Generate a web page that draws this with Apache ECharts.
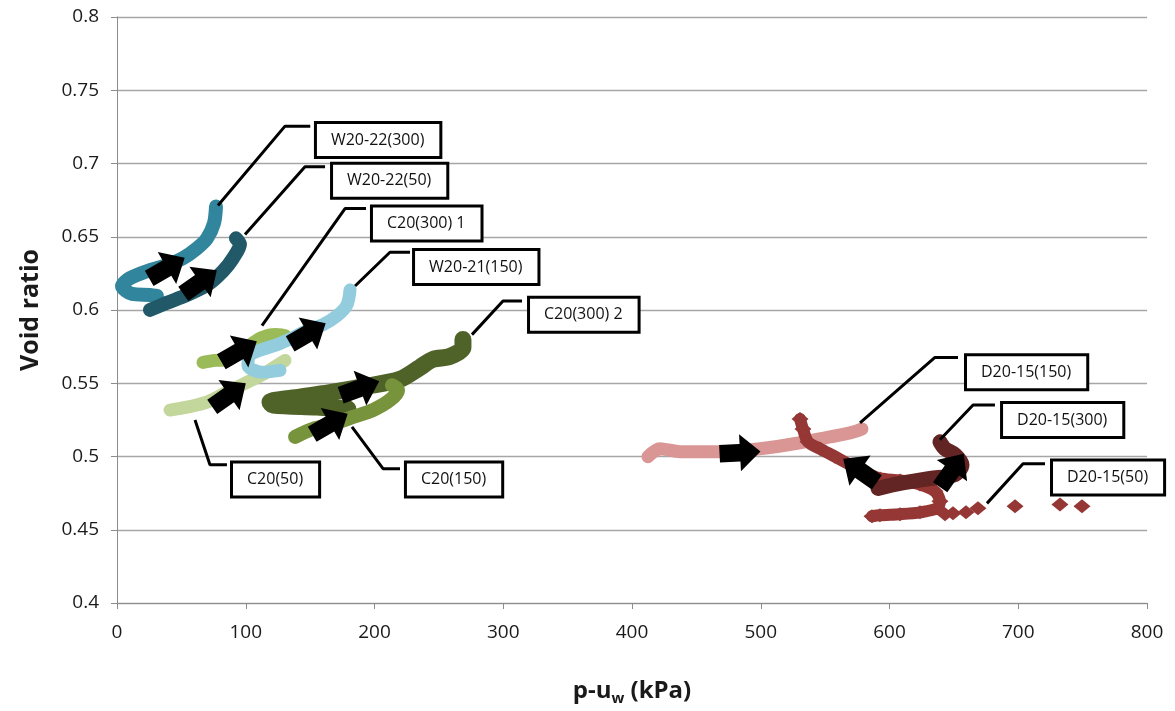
<!DOCTYPE html>
<html>
<head>
<meta charset="utf-8">
<script src="https://cdn.jsdelivr.net/npm/echarts@6/dist/echarts.min.js"></script>
<style>
html,body{margin:0;padding:0;background:#fff;}
#chart{width:1175px;height:711px;}
</style>
</head>
<body>
<div id="chart"></div>
<script>
// ---- data (p-uw in kPa, void ratio) ----
const xTicks = [0, 100, 200, 300, 400, 500, 600, 700, 800];
const yTicks = [0.4, 0.45, 0.5, 0.55, 0.6, 0.65, 0.7, 0.75, 0.8];

const seriesNames = ['W20-22(300)', 'W20-22(50)', 'C20(300) 1', 'C20(50)', 'W20-21(150)',
  'C20(300) 2', 'C20(150)', 'D20-15(150)', 'D20-15(50)', 'D20-15(300)'];

const w2022_300 = [[31.1,0.6096],[25.6,0.6103],[11.7,0.611],[3.9,0.6164],[10.1,0.6218],[25.6,0.6272],[38.8,0.6306],[51.3,0.6354],[62.1,0.6421],[69.9,0.6489],[75.3,0.6591],[76.9,0.6706]];
const w2022_50 = [[25.6,0.6001],[38.8,0.6049],[54.4,0.6103],[69.9,0.6171],[82.3,0.6266],[90.1,0.6354],[95.5,0.6449],[92.4,0.6489]];
const c20_300_1 = [[66.8,0.5642],[76.1,0.5656],[86.2,0.5663],[95.5,0.571],[104.9,0.5771],[112.6,0.5812],[122.7,0.5832],[130.5,0.5825]];
const c20_50 = [[41.2,0.5317],[54.4,0.5337],[69.9,0.5371],[85.4,0.5439],[97.9,0.5493],[113.4,0.5561],[124.3,0.5622],[130.5,0.5656]];
const w2021_150 = [[126.6,0.5588],[112.6,0.5575],[101.7,0.5622],[103.3,0.569],[112.6,0.573],[124.3,0.5764],[136.7,0.5812],[147.6,0.586],[160,0.59],[170.9,0.596],[178.6,0.6035],[181,0.6137]];
const c20_300_2 = [[179.4,0.5324],[155.3,0.5337],[121.2,0.5351],[118.8,0.5371],[142.1,0.5405],[167.8,0.5439],[194.2,0.548],[219.8,0.5527],[235.3,0.5608],[245.4,0.5663],[258.6,0.5683],[268.7,0.5744],[268.7,0.5798]];
const c20_150 = [[138.3,0.5134],[152.2,0.5188],[167.8,0.5222],[183.3,0.527],[198.8,0.5317],[212,0.5385],[218.3,0.5453],[213.6,0.5486]];
const d2015_150 = [[412.4,0.4999],[421.7,0.5053],[437.3,0.5033],[470.7,0.5033],[499.4,0.5053],[530.5,0.5094],[553.8,0.5134],[569.3,0.5161],[578.6,0.5188]];
const d2015_50 = [[530.5,0.5256],[532.8,0.5188],[536.7,0.51],[546,0.5053],[557.7,0.4999],[569.3,0.4944],[581,0.489],[592.6,0.485],[608.2,0.4836],[623.7,0.4809],[635.3,0.4762],[639.2,0.4694],[636.9,0.4646],[623.7,0.4619],[608.2,0.4606],[592.6,0.4599],[586.4,0.4592]];
const d2015_50_tail = [[643.1,0.4606],[649.3,0.4612],[659.4,0.4619],[668.7,0.4646],[697.5,0.466],[732.4,0.4673],[749.5,0.466]];
const d2015_300 = [[591.1,0.4782],[608.2,0.4816],[631.5,0.485],[650.9,0.4877],[656.3,0.4944],[650.9,0.5012],[643.1,0.5053],[639.2,0.51]];

// arrows (data position, direction in degrees counter-clockwise from +x)
const arrowPos = [[38.8,0.6286],[64.5,0.6191],[94.8,0.5717],[148.3,0.5839],[87,0.5419],[188.7,0.5466],[165.4,0.5222],[483.9,0.5026],[577.1,0.4904],[648.5,0.4904]];
const arrowDir = [30, 35, 30, 30, 35, 20, 30, 3, 145, 55];

// callouts: label text, box anchor (left edge, middle), leader polyline
const calloutText = ['W20-22(300)', 'W20-22(50)', 'C20(300) 1', 'W20-21(150)', 'C20(300) 2', 'C20(50)', 'C20(150)', 'D20-15(150)', 'D20-15(300)', 'D20-15(50)'];
const calloutBox = [[155.3,0.716],[167.8,0.6882],[198.8,0.6591],[231.5,0.6293],[320.8,0.5967],[90.1,0.4843],[225.2,0.4843],[660.2,0.5575],[688.2,0.5249],[727,0.4856]];
const calloutLeader = [
  [[78.4,0.6713],[130.5,0.7255],[150.1,0.7255]],
  [[99.4,0.6516],[146,0.6977],[161.6,0.6977]],
  [[112.6,0.5893],[177.1,0.6692],[193.4,0.6692]],
  [[184.9,0.6164],[212,0.6394],[227.6,0.6394]],
  [[275.7,0.5832],[299.8,0.6062],[314.6,0.6062]],
  [[60.6,0.5249],[72.2,0.4944],[85.4,0.4944]],
  [[182.5,0.5202],[206.6,0.4917],[219.8,0.4917]],
  [[577.1,0.5229],[635.3,0.5676],[653.2,0.5676]],
  [[639.2,0.5114],[664.9,0.5351],[681.9,0.5351]],
  [[675.7,0.468],[703.7,0.4951],[720.8,0.4951]]
];

// ---- styling ----
const FONT = '"Open Sans", "Liberation Sans", sans-serif';
const bands = [
  {data: w2022_300, color: '#31859C', w: 14},
  {data: w2022_50, color: '#215968', w: 14},
  {data: c20_300_1, color: '#9BBB59', w: 13},
  {data: c20_50, color: '#C3D69B', w: 13},
  {data: w2021_150, color: '#93CDDD', w: 13},
  {data: c20_300_2, color: '#4F6228', w: 17},
  {data: c20_150, color: '#77933C', w: 14},
  {data: d2015_150, color: '#D99694', w: 13},
  {data: d2015_50, color: '#953735', w: 12, diamond: true},
  {data: d2015_300, color: '#632523', w: 15}
];

const series = [];
bands.forEach((b, i) => {
  series.push({
    name: seriesNames[i],
    type: 'line',
    data: b.data,
    smooth: 0.3,
    showSymbol: !!b.diamond,
    symbol: b.diamond ? 'diamond' : 'none',
    symbolSize: [17, 14],
    itemStyle: {color: b.color, opacity: 1},
    lineStyle: {color: b.color, width: b.w, cap: 'round', join: 'round', opacity: 1},
    z: 2 + i * 0.01,
    animation: false
  });
  if (b.diamond) {
    series.push({
      name: seriesNames[i] + ' tail',
      type: 'scatter',
      data: d2015_50_tail,
      symbol: 'diamond',
      symbolSize: [17, 14],
      itemStyle: {color: b.color, opacity: 1},
      z: 2 + i * 0.01,
      animation: false
    });
  }
});

const ARROW = 'path://M0,9 L18,9 L18,0 L36,17 L18,34 L18,25 L0,25 Z';
series.push({
  type: 'scatter',
  data: arrowPos.map((p, i) => ({value: p, symbolRotate: arrowDir[i]})),
  symbol: ARROW,
  symbolSize: [41, 37],
  itemStyle: {color: '#000', opacity: 1},
  z: 5,
  animation: false
});

calloutLeader.forEach(l => {
  series.push({
    type: 'line',
    data: l,
    showSymbol: false,
    symbol: 'none',
    lineStyle: {color: '#000', width: 3, opacity: 1},
    z: 6,
    animation: false
  });
});

series.push({
  type: 'scatter',
  data: calloutBox.map((p, i) => ({value: p, name: calloutText[i]})),
  symbolSize: 0,
  itemStyle: {opacity: 1},
  z: 7,
  label: {
    show: true,
    position: 'right',
    distance: 0,
    formatter: '{b}',
    fontFamily: FONT,
    fontSize: 16,
    lineHeight: 19,
    color: '#111',
    backgroundColor: '#fff',
    borderColor: '#000',
    borderWidth: 3,
    padding: [7, 15, 6, 14]
  },
  animation: false
});

const chart = echarts.init(document.getElementById('chart'), null, {renderer: 'canvas'});
chart.setOption({
  backgroundColor: '#fff',
  animation: false,
  grid: {left: 117, top: 17, right: 28, bottom: 104},
  xAxis: {
    type: 'value',
    min: xTicks[0], max: xTicks[xTicks.length - 1], interval: xTicks[1] - xTicks[0],
    name: '{a|p-u}{s|w}{a| (kPa)}',
    nameLocation: 'middle',
    nameGap: 74,
    nameTextStyle: {
      rich: {
        a: {fontFamily: FONT, fontSize: 24, fontWeight: 'bold', color: '#1a1a1a'},
        s: {fontFamily: FONT, fontSize: 15, fontWeight: 'bold', color: '#1a1a1a', padding: [14, 0, 0, 0]}
      }
    },
    axisLine: {show: true, lineStyle: {color: '#8c8c8c', width: 1}},
    axisTick: {show: true, length: 6, lineStyle: {color: '#8c8c8c'}},
    axisLabel: {fontFamily: FONT, fontSize: 19, color: '#1a1a1a', margin: 20},
    splitLine: {show: false}
  },
  yAxis: {
    type: 'value',
    min: yTicks[0], max: yTicks[yTicks.length - 1], interval: 0.05,
    name: 'Void ratio',
    nameLocation: 'middle',
    nameGap: 74,
    nameTextStyle: {fontFamily: FONT, fontSize: 25, fontWeight: 'bold', color: '#1a1a1a'},
    axisLine: {show: true, lineStyle: {color: '#8c8c8c', width: 1}},
    axisTick: {show: true, length: 6, lineStyle: {color: '#8c8c8c'}},
    axisLabel: {fontFamily: FONT, fontSize: 19, color: '#1a1a1a', margin: 18},
    splitLine: {show: true, lineStyle: {color: '#a6a6a6', width: 1.3}}
  },
  series: series
});
</script>
</body>
</html>
